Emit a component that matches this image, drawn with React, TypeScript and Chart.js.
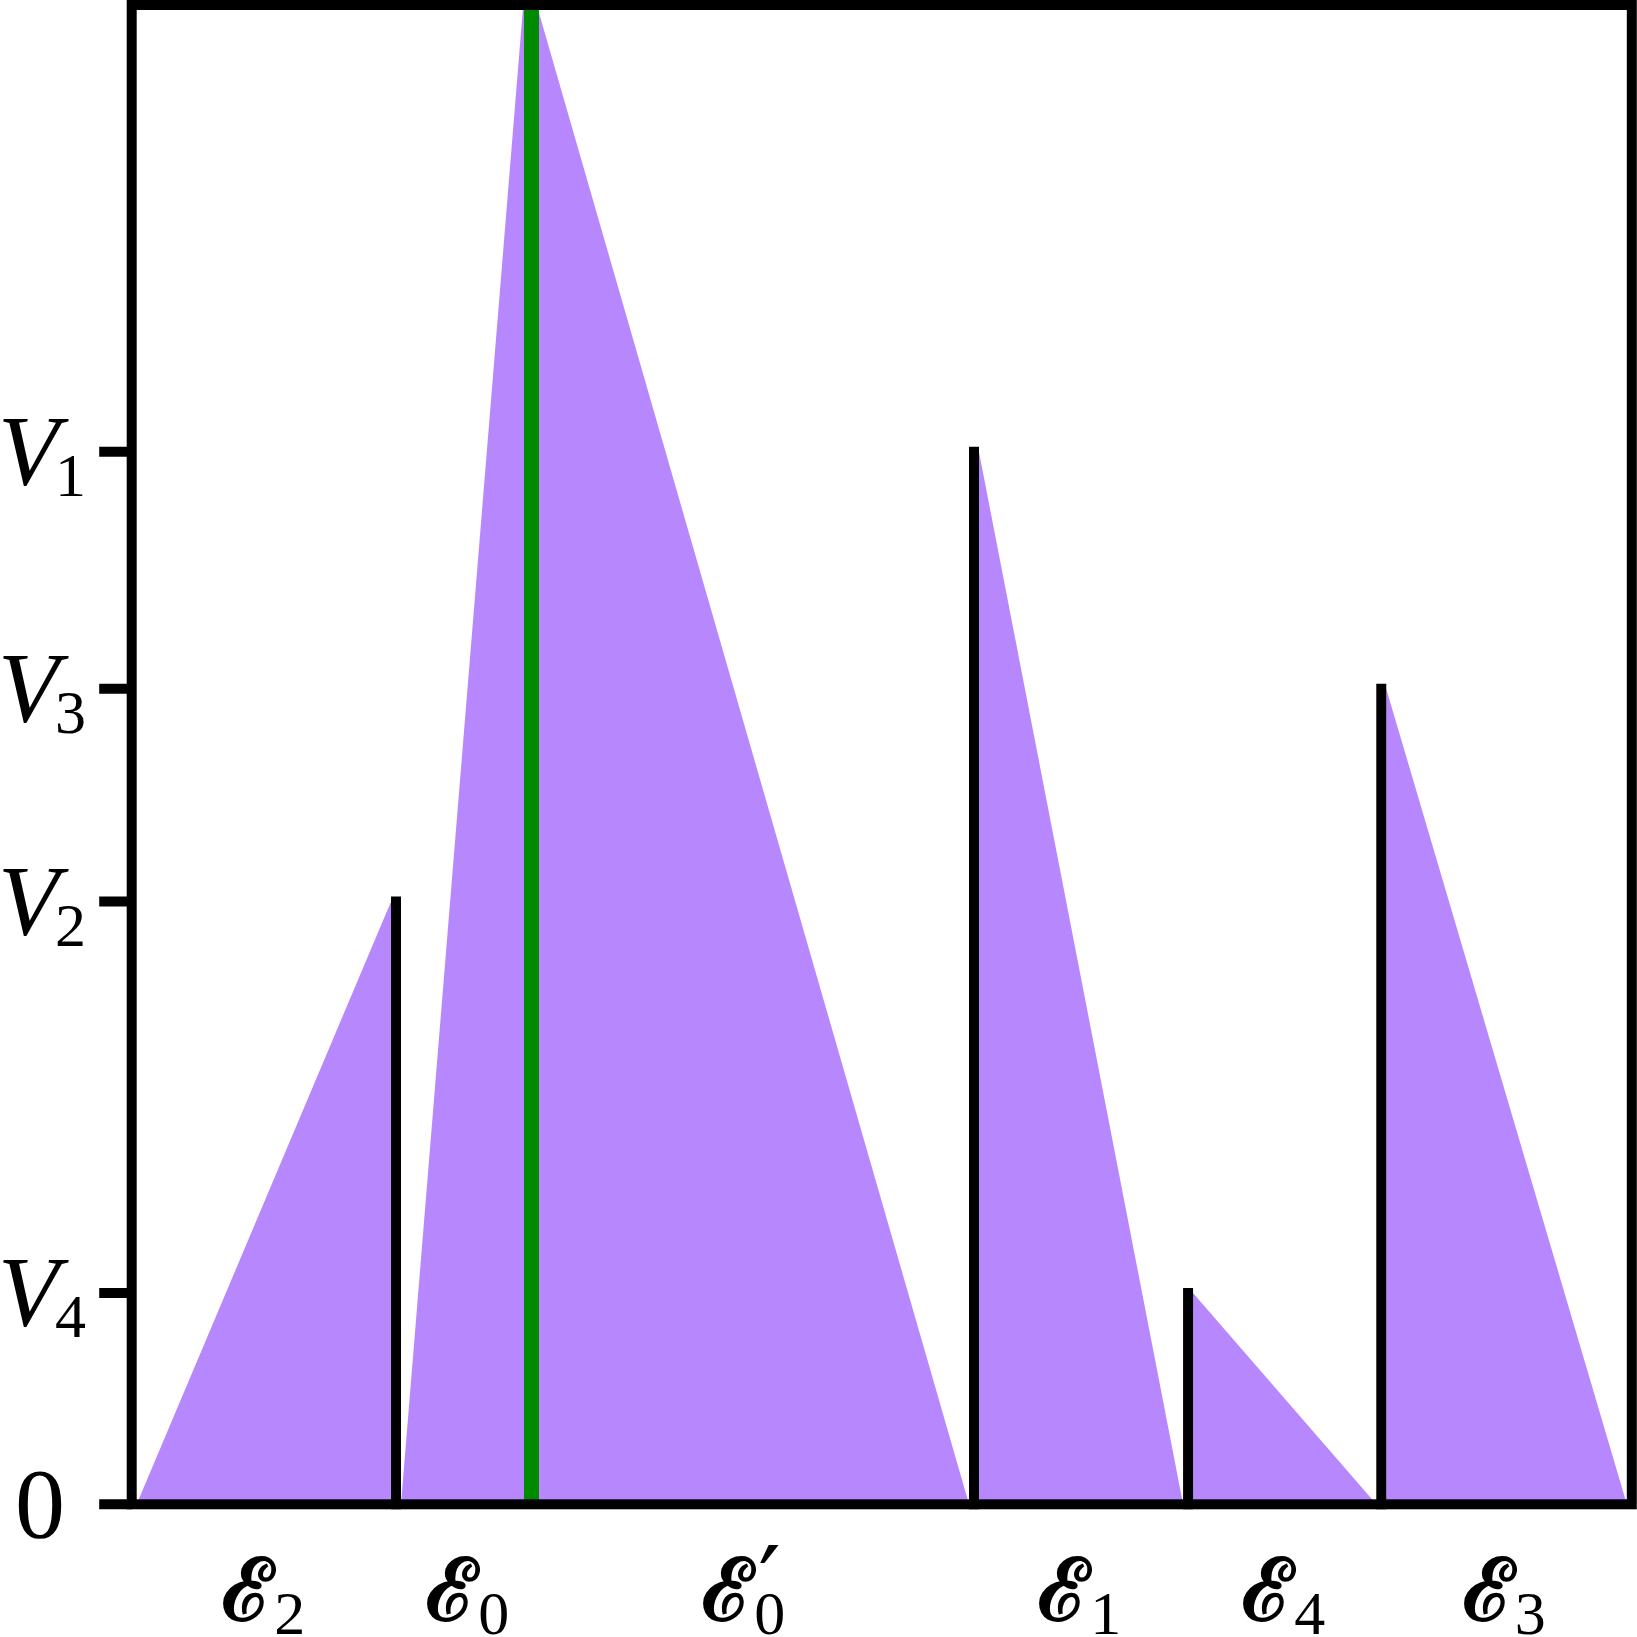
import React, { useEffect, useRef } from 'react';
import { Chart, registerables } from 'chart.js';

Chart.register(...registerables);

// Axis extents (data units)
const xMax = 10;
const yMax = 10;

// Y levels (ticks) and their labels
const yLevelValues = [0, 1.41, 4.02, 5.44, 7.02];
const yLabelMain = ['0', 'V', 'V', 'V', 'V'];
const yLabelSub = ['', '4', '2', '3', '1'];

// X region labels
const xLabelPositions = [0.88, 2.24, 4.08, 6.32, 7.68, 9.15];
const xLabelSubs = ['2', '0', '0', '1', '4', '3'];
const xLabelPrimes = [false, false, true, false, false, false];

// Filled profile (purple)
const profileX = [0.033, 1.729, 1.729, 1.795, 2.61, 2.7, 5.582, 5.648, 5.648, 7.009, 7.075, 7.075, 8.297, 8.363, 8.363, 9.967];
const profileY = [0, 4.02, 0, 0, 10, 10, 0, 0, 7.02, 0, 0, 1.41, 0, 0, 5.44, 0];

// Black vertical walls
const wallX = [1.762, 5.615, 7.042, 8.33];
const wallTop = [4.02, 7.02, 1.41, 5.44];

// Green vertical line
const greenX = 2.665;

const PURPLE = '#b788fd';
const GREEN = '#008a00';

export default function App() {
  const ref = useRef<HTMLCanvasElement>(null);

  useEffect(() => {
    document.body.style.margin = '0';
    const canvas = ref.current!;

    const framePlugin = {
      id: 'frameAndLabels',
      afterDatasetsDraw(chart: any) {
        const { ctx, chartArea: a, scales } = chart;
        const xs = scales.x;
        const ys = scales.y;
        ctx.save();
        ctx.strokeStyle = '#000';
        ctx.fillStyle = '#000';
        ctx.lineWidth = 10;
        ctx.lineJoin = 'miter';
        ctx.strokeRect(a.left, a.top, a.right - a.left, a.bottom - a.top);

        // y tick marks
        ctx.lineCap = 'butt';
        yLevelValues.forEach((v) => {
          const y = ys.getPixelForValue(v);
          ctx.beginPath();
          ctx.moveTo(a.left - 32.5, y);
          ctx.lineTo(a.left, y);
          ctx.stroke();
        });

        // y labels
        yLevelValues.forEach((v, i) => {
          const y = ys.getPixelForValue(v);
          if (yLabelSub[i] === '') {
            ctx.font = '100px "Liberation Serif"';
            ctx.textAlign = 'center';
            ctx.textBaseline = 'alphabetic';
            ctx.fillText(yLabelMain[i], 40, y + 33);
          } else {
            ctx.font = 'italic 100px "Liberation Serif"';
            ctx.textAlign = 'left';
            ctx.textBaseline = 'alphabetic';
            ctx.fillText(yLabelMain[i], -2, y + 32);
            ctx.font = '62px "Liberation Serif"';
            ctx.fillText(yLabelSub[i], 55, y + 44);
          }
        });

        // x labels
        xLabelPositions.forEach((v, i) => {
          const cx = xs.getPixelForValue(v);
          ctx.textAlign = 'left';
          ctx.textBaseline = 'alphabetic';
          const mainFont = 'bold 86px "DejaVu Serif"';
          const subFont = '62px "Liberation Serif"';
          ctx.font = mainFont;
          const w1 = ctx.measureText('ℰ').width;
          ctx.font = subFont;
          const w2 = ctx.measureText(xLabelSubs[i]).width;
          const total = w1 + w2;
          const x0 = cx - total / 2;
          ctx.font = mainFont;
          ctx.fillText('ℰ', x0, 1620);
          ctx.font = subFont;
          ctx.fillText(xLabelSubs[i], x0 + w1, 1634);
          if (xLabelPrimes[i]) {
            ctx.font = '100px "DejaVu Serif"';
            ctx.fillText('′', x0 + w1 + 4, 1617);
          }
        });
        ctx.restore();
      },
    };

    const profileData = profileX.map((x, i) => ({ x, y: profileY[i] }));
    const wallDatasets = wallX.map((x, i) => ({
      type: 'line' as const,
      data: [
        { x, y: 0 },
        { x, y: wallTop[i] },
      ],
      borderColor: '#000',
      borderWidth: 10,
      borderCapStyle: 'square' as const,
      pointRadius: 0,
      fill: false,
      clip: false as any,
      order: 2,
    }));

    const chart = new Chart(canvas, {
      type: 'line',
      data: {
        datasets: [
          {
            data: profileData,
            borderWidth: 0,
            borderColor: 'rgba(0,0,0,0)',
            backgroundColor: PURPLE,
            fill: 'origin',
            pointRadius: 0,
            tension: 0,
            order: 3,
          },
          ...wallDatasets,
          {
            data: [
              { x: greenX, y: 0 },
              { x: greenX, y: yMax },
            ],
            borderColor: GREEN,
            borderWidth: 15,
            borderCapStyle: 'butt',
            pointRadius: 0,
            fill: false,
            clip: false as any,
            order: 1,
          },
        ] as any,
      },
      options: {
        responsive: false,
        animation: false,
        devicePixelRatio: 1,
        layout: {
          padding: { left: 131.7, top: 5, right: 5.2, bottom: 132.7 },
        },
        scales: {
          x: { type: 'linear', min: 0, max: xMax, display: false },
          y: { type: 'linear', min: 0, max: yMax, display: false },
        },
        plugins: {
          legend: { display: false },
          tooltip: { enabled: false },
        },
      },
      plugins: [framePlugin],
    });

    return () => chart.destroy();
  }, []);

  return (
    <div style={{ width: 1637, height: 1637, background: '#fff' }}>
      <canvas ref={ref} width={1637} height={1637} style={{ display: 'block' }} />
    </div>
  );
}
